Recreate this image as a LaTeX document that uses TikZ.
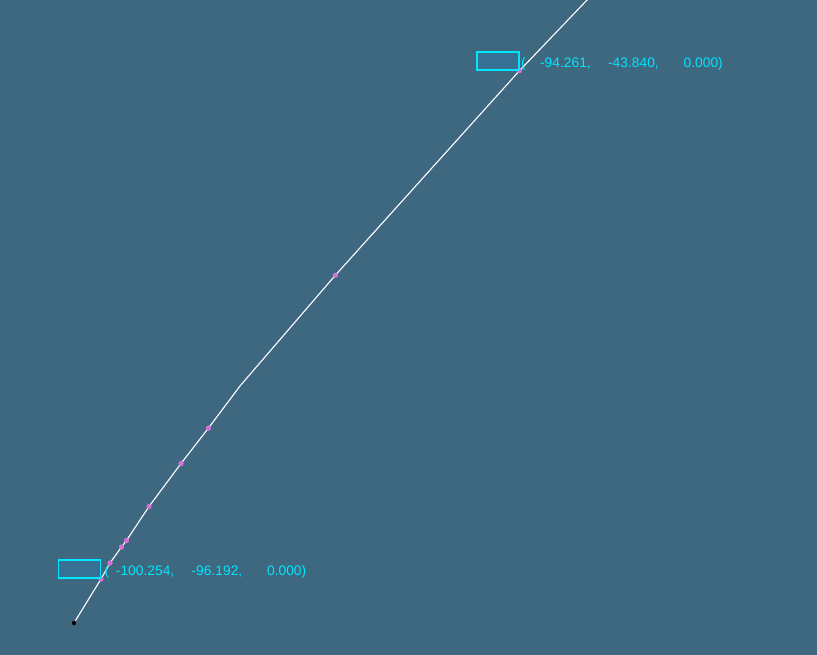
\documentclass[tikz,border=0pt]{standalone}
\usepackage{fontspec}
\setmainfont{Liberation Sans}
\usetikzlibrary{positioning}

\definecolor{bgblue}{RGB}{61,104,128}
\definecolor{boxfill}{RGB}{56,112,148}
\definecolor{glowcyan}{RGB}{0,230,255}
\definecolor{ptpink}{RGB}{214,112,214}

\newcommand{\ptlabel}[3]{(\makebox[65pt][r]{#1}\makebox[68pt][r]{#2}\makebox[64pt][r]{#3)}}

\begin{document}
\begin{tikzpicture}
	[x=1pt, y=-1pt,
	 curve/.style={draw=white, line width=1.1pt},
	 pt/.style={circle, fill=ptpink, minimum size=5pt, inner sep=0pt},
	 endpt/.style={circle, fill=black, draw=black!60, minimum size=5pt, inner sep=0pt},
	 tagbox/.style={draw=glowcyan, fill=boxfill, line width=1.3pt, minimum width=42pt, minimum height=18pt, inner sep=0pt},
	 coordtext/.style={text=glowcyan, font=\fontsize{13.8}{15}\selectfont, inner sep=0pt, anchor=west}]
   \useasboundingbox[fill=bgblue] (0,0) rectangle (817,655);
   % points along the curve
   \coordinate (c_0) at (74,623);
   \coordinate (c_top) at (588,-1);
   \coordinate (c_k) at (240,386);
   \node[pt] (p_1) at (101,579) {};
   \node[pt] (p_2) at (110,563) {};
   \node[pt] (p_3) at (121.5,547) {};
   \node[pt] (p_4) at (126.5,540.5) {};
   \node[pt] (p_5) at (149,506.5) {};
   \node[pt] (p_6) at (181,463.5) {};
   \node[pt] (p_7) at (208.3,428.3) {};
   \node[pt] (p_8) at (335.3,275.3) {};
   \node[pt] (p_9) at (519.5,70.7) {};
   \draw[curve] (c_0) -- (p_1.center) -- (p_2.center) -- (p_3.center) -- (p_4.center)
      -- (p_5.center) -- (p_6.center) -- (p_7.center) -- (c_k)
      -- (p_8.center) -- (p_9.center) -- (c_top);
   \foreach \p in {1,...,9}
      \node[pt] at (p_\p) {};
   \node[endpt] (start) at (c_0) {};
   % coordinate tags
   \node[tagbox] (box_top) at (498,61) {};
   \node[tagbox] (box_low) at (79.5,569) {};
   \node[coordtext] (lab_top) at (521,64) {\ptlabel{-94.261,}{-43.840,}{0.000}};
   \node[coordtext] (lab_low) at (104.5,572) {\ptlabel{-100.254,}{-96.192,}{0.000}};
\end{tikzpicture}
\end{document}
